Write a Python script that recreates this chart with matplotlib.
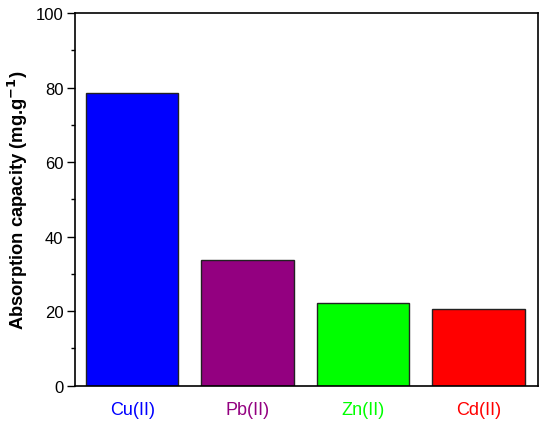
import matplotlib.pyplot as plt
from matplotlib.ticker import MultipleLocator

plt.rcParams['font.family'] = ['Liberation Sans', 'DejaVu Sans']

metals = ['Cu(II)', 'Pb(II)', 'Zn(II)', 'Cd(II)']
capacity = [78.4, 33.7, 22.1, 20.5]
colors = ['#0000ff', '#930080', '#00ff00', '#ff0000']

fig = plt.figure(figsize=(5.5, 4.27), dpi=100)
ax = fig.add_axes([0.1355, 0.0948, 0.8435, 0.8724])

x = range(len(metals))
ax.bar(x, capacity, width=0.8, color=colors, edgecolor='#222222', linewidth=1)

ax.set_xlim(-0.5, 3.52)
ax.set_ylim(0, 100)
ax.set_xticks(list(x))
ax.set_xticklabels(metals, fontsize=13)
for lbl, c in zip(ax.get_xticklabels(), colors):
    lbl.set_color(c)
ax.tick_params(axis='x', length=0, pad=11)
ax.yaxis.set_major_locator(MultipleLocator(20))
ax.yaxis.set_minor_locator(MultipleLocator(10))
ax.tick_params(axis='y', which='major', direction='out', length=6, width=1, labelsize=12, pad=2)
ax.tick_params(axis='y', which='minor', direction='out', length=3, width=1)
for s in ax.spines.values():
    s.set_linewidth(1.2)

ax.set_ylabel('Absorption capacity (mg.g$^{\\mathbf{-1}}$)', fontsize=13.2, fontweight='bold')
ax.yaxis.set_label_coords(-0.097, 0.5)

plt.savefig('out.png', dpi=100)
